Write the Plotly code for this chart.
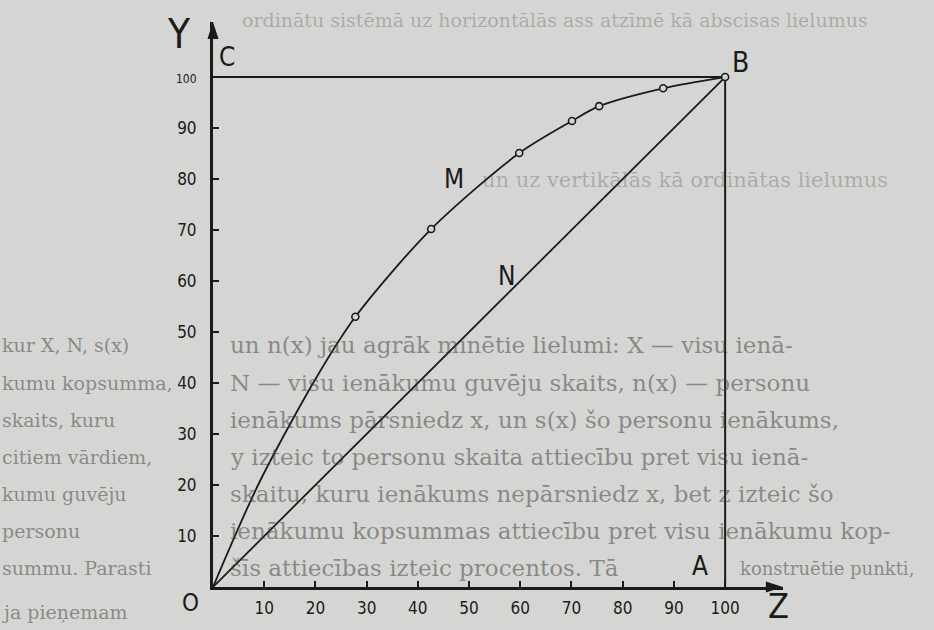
import plotly.graph_objects as go

# ---------------- data ----------------
x_tick_vals = [10, 20, 30, 40, 50, 60, 70, 80, 90, 100]
y_tick_vals = [10, 20, 30, 40, 50, 60, 70, 80, 90, 100]

# curve O-M-B (Z horizontal, Y vertical), in %
curve_z = [0, 8.85, 19.9, 27.8, 42.6, 59.8, 70.1, 75.4, 87.9, 100]
curve_y = [0, 20.1, 40.6, 53.0, 70.2, 85.1, 91.4, 94.3, 97.8, 100]
# constructed (marked) points on the curve
point_z = [27.8, 42.6, 59.8, 70.1, 75.4, 87.9, 100]
point_y = [53.0, 70.2, 85.1, 91.4, 94.3, 97.8, 100]
# line of equal distribution O-N-B
equal_z = [0, 100]
equal_y = [0, 100]
# frame C-B-A
frame_z = [0, 100, 100]
frame_y = [100, 100, 0]

# ---------------- styling ----------------
INK = "#1b1b1b"
PAGE = "#d5d5d3"
HAND = "Liberation Sans Narrow, DejaVu Sans Condensed, DejaVu Sans, sans-serif"
SERIF = "DejaVu Serif, Liberation Serif, serif"
X_MAX = 111.3
Y_MAX = 110.8
L, R, T, B = 213, 151, 22, 43
W, H = 934, 630
PW, PH = W - L - R, H - T - B


def px(xp):
    return (xp - L) / PW


def py(yp):
    return (H - B - yp) / PH


fig = go.Figure()

fig.add_trace(go.Scatter(x=frame_z, y=frame_y, mode="lines",
                         line=dict(color=INK, width=2), hoverinfo="skip"))
fig.add_trace(go.Scatter(x=equal_z, y=equal_y, mode="lines",
                         line=dict(color=INK, width=1.8), hoverinfo="skip"))
fig.add_trace(go.Scatter(x=curve_z, y=curve_y, mode="lines",
                         line=dict(color=INK, width=1.8, shape="spline", smoothing=0.8),
                         hoverinfo="skip"))
fig.add_trace(go.Scatter(x=point_z, y=point_y, mode="markers",
                         marker=dict(symbol="circle", size=7, color=PAGE,
                                     line=dict(color=INK, width=1.6)),
                         cliponaxis=False))
# axis arrow heads
fig.add_trace(go.Scatter(x=[0, X_MAX], y=[Y_MAX, 0], mode="markers",
                         marker=dict(symbol="arrow", size=18, angle=[0, 90], color=INK),
                         cliponaxis=False, hoverinfo="skip"))

annotations = []
# letters of the drawing (pixel positions -> paper coordinates)
for txt, xp, yp, sz in [("C", 227, 57, 26), ("B", 740, 62, 28),
                        ("M", 454, 179, 26), ("N", 507, 276, 26),
                        ("A", 700, 566, 26), ("O", 190, 603, 24),
                        ("Y", 179, 34, 40), ("Z", 778, 606, 34)]:
    annotations.append(dict(x=px(xp), y=py(yp), xref="paper", yref="paper", text=txt,
                            showarrow=False, font=dict(family=HAND, size=sz, color=INK),
                            xanchor="center", yanchor="middle"))

# scanned page text behind the drawing
DARK = "rgba(60,60,60,0.5)"
FAINT = "rgba(60,60,60,0.28)"
page_lines = [
    (240, 20, "ordinātu sistēmā uz horizontālās ass atzīmē kā abscisas lielumus", 19, FAINT),
    (480, 180, "un uz vertikālās kā ordinātas lielumus", 21, FAINT),
    (0, 345, "kur X, N, s(x)", 19, DARK),
    (228, 345, "un n(x) jau agrāk minētie lielumi: X — visu ienā-", 23, DARK),
    (0, 383, "kumu kopsumma,", 19, DARK),
    (228, 383, "N — visu ienākumu guvēju skaits, n(x) — personu", 23, DARK),
    (0, 420, "skaits, kuru", 19, DARK),
    (228, 420, "ienākums pārsniedz x, un s(x) šo personu ienākums,", 23, DARK),
    (0, 457, "citiem vārdiem,", 19, DARK),
    (228, 457, "y izteic to personu skaita attiecību pret visu ienā-", 23, DARK),
    (0, 494, "kumu guvēju", 19, DARK),
    (228, 494, "skaitu, kuru ienākums nepārsniedz x, bet z izteic šo", 23, DARK),
    (0, 531, "personu", 19, DARK),
    (228, 531, "ienākumu kopsummas attiecību pret visu ienākumu kop-", 23, DARK),
    (0, 568, "summu. Parasti", 19, DARK),
    (228, 568, "šīs attiecības izteic procentos. Tā", 23, DARK),
    (738, 568, "konstruētie punkti,", 18, DARK),
    (0, 612, "ja pieņemam", 19, DARK),
]
for xp, yp, txt, sz, col in page_lines:
    annotations.append(dict(x=px(xp), y=py(yp), xref="paper", yref="paper", text=txt,
                            showarrow=False, xanchor="left", yanchor="middle",
                            font=dict(family=SERIF, size=sz, color=col)))

y_tick_text = [str(v) if v != 100 else '<span style="font-size:12px">100</span>'
               for v in y_tick_vals]

fig.update_layout(
    width=W, height=H,
    margin=dict(l=L, r=R, t=T, b=B, pad=0),
    paper_bgcolor=PAGE, plot_bgcolor=PAGE,
    showlegend=False,
    annotations=annotations,
    xaxis=dict(range=[0, X_MAX], showgrid=False, zeroline=False,
               showline=True, linewidth=3, linecolor=INK,
               ticks="inside", ticklen=6, tickwidth=2, tickcolor=INK,
               tickvals=x_tick_vals, ticktext=[str(v) for v in x_tick_vals],
               tickfont=dict(family=HAND, size=17, color=INK),
               ticklabelstandoff=4, fixedrange=True),
    yaxis=dict(range=[0, Y_MAX], showgrid=False, zeroline=False,
               showline=True, linewidth=3, linecolor=INK,
               ticks="inside", ticklen=6, tickwidth=2, tickcolor=INK,
               tickvals=y_tick_vals, ticktext=y_tick_text,
               tickfont=dict(family=HAND, size=17, color=INK),
               ticklabelstandoff=10, fixedrange=True),
)

fig.write_html("out.html", config={"displayModeBar": False},
               post_script="document.body.style.margin='0px';document.body.style.overflow='hidden';")
